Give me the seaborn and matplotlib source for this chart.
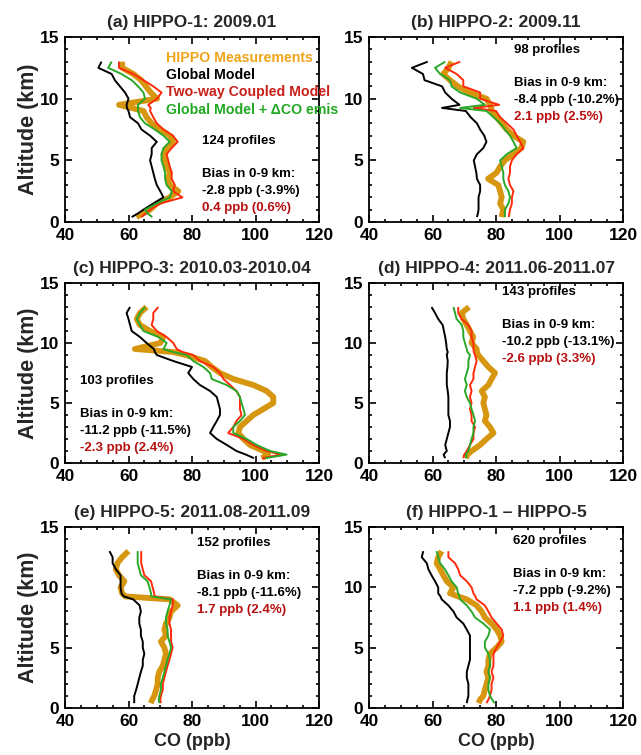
import matplotlib
matplotlib.use("Agg")
import matplotlib.pyplot as plt
from matplotlib.ticker import MultipleLocator
import seaborn as sns
import pandas as pd

# ---------------- data ----------------
ALT = [0.4, 0.7, 1.0, 1.5, 2.0, 2.5, 3.0, 3.5, 4.0, 4.5, 5.0, 5.5, 6.0, 6.5, 7.0,
       7.5, 8.0, 8.5, 9.0, 9.25, 9.5, 10.0, 10.5, 11.0, 11.5, 12.0, 12.5, 13.0]

# (a) HIPPO-1
hippo_a = [62.5, 64.5, 66.8, 68.9, 73.0, 75.7, 73.0, 72.5, 73.0, 72.0, 71.5, 71.0, 72.0, 74.0, 73.0,
           70.0, 67.3, 65.7, 64.7, 61.0, 57.0, 69.0, 67.0, 65.5, 64.0, 61.5, 58.0, 58.0]
glob_a = [61.0, 63.0, 64.7, 67.8, 71.0, 70.0, 68.9, 68.3, 67.8, 67.3, 66.8, 67.3, 67.3, 68.9, 66.8,
          64.1, 63.0, 60.5, 60.0, 59.5, 59.4, 60.0, 58.9, 57.3, 55.7, 54.7, 50.5, 51.5]
twoway_a = [64.0, 65.5, 66.8, 70.0, 77.0, 74.0, 74.6, 73.6, 73.6, 73.0, 72.5, 72.0, 73.6, 75.5, 74.0,
            71.0, 68.9, 67.8, 66.8, 67.0, 66.2, 69.0, 70.4, 67.8, 64.7, 61.5, 57.0, 57.0]
dco_a = [67.5, 66.0, 65.2, 68.9, 73.0, 73.6, 72.0, 71.5, 71.5, 71.0, 70.4, 70.4, 71.0, 73.0, 71.0,
         68.3, 65.2, 63.6, 63.0, 63.0, 63.0, 65.2, 64.7, 63.0, 61.0, 57.8, 53.6, 54.7]

# (b) HIPPO-2
hippo_b = [81.8, 82.0, 82.3, 81.3, 81.8, 81.3, 80.7, 77.5, 80.2, 81.3, 82.8, 85.5, 88.0, 88.6, 85.5,
           83.4, 81.8, 80.2, 78.6, 78.5, 78.1, 77.0, 71.5, 68.0, 65.5, 63.4, 65.0, 66.0]
glob_b = [74.0, 74.3, 74.5, 74.5, 74.5, 75.0, 75.0, 74.0, 73.8, 73.4, 73.0, 74.0, 76.0, 77.0, 76.3,
          75.0, 74.0, 72.0, 70.5, 63.0, 68.5, 66.0, 64.0, 63.0, 57.5, 57.0, 53.5, 58.5]
twoway_b = [84.0, 84.2, 84.4, 85.0, 85.0, 85.5, 84.4, 83.9, 84.4, 84.4, 85.0, 86.5, 88.6, 87.6, 86.5,
            85.5, 83.4, 81.3, 80.0, 73.0, 81.0, 75.0, 75.0, 69.7, 69.7, 67.6, 64.0, 68.7]
dco_b = [82.8, 82.8, 82.8, 83.9, 84.4, 83.9, 82.8, 82.3, 82.3, 81.8, 81.3, 83.4, 86.5, 85.5, 84.4,
         82.8, 81.3, 79.2, 77.0, 68.7, 76.5, 73.9, 68.7, 66.0, 65.5, 62.4, 60.8, 64.0]

# (c) HIPPO-3
hippo_c = [102.0, 104.0, 102.5, 98.3, 96.2, 94.6, 95.1, 97.2, 99.3, 102.5, 105.6, 105.6, 103.5, 99.3, 93.0,
           88.8, 86.2, 84.1, 78.0, 74.0, 62.0, 70.0, 71.0, 66.8, 63.6, 62.6, 63.6, 65.7]
glob_c = [99.5, 97.0, 94.0, 91.0, 87.8, 85.7, 86.7, 87.8, 88.8, 88.8, 88.3, 87.8, 85.7, 82.5, 80.4,
          78.8, 80.0, 74.1, 68.9, 68.3, 68.0, 65.7, 63.6, 61.0, 60.5, 60.0, 59.4, 60.5]
twoway_c = [102.0, 108.2, 103.5, 99.3, 96.2, 91.4, 93.0, 94.0, 95.6, 95.1, 95.1, 95.1, 94.0, 92.0, 89.9,
            88.8, 86.7, 82.5, 80.4, 77.0, 75.2, 74.1, 72.0, 68.9, 67.3, 67.8, 67.8, 69.4]
dco_c = [103.0, 109.8, 104.6, 100.4, 97.2, 93.0, 93.0, 95.1, 96.7, 96.2, 95.6, 95.1, 94.0, 90.9, 86.2,
         85.7, 83.6, 80.4, 78.3, 74.0, 71.0, 72.0, 69.4, 64.7, 63.6, 62.6, 63.6, 65.2]

# (d) HIPPO-4
hippo_d = [70.5, 71.0, 72.3, 75.0, 77.0, 79.2, 78.1, 76.5, 77.0, 76.5, 76.0, 76.5, 75.5, 77.6, 78.6,
           79.7, 77.6, 76.0, 74.4, 74.0, 73.9, 72.3, 72.8, 71.8, 70.8, 69.7, 69.2, 71.5]
glob_d = [64.0, 63.5, 64.5, 64.0, 64.5, 65.0, 65.5, 65.5, 65.0, 65.0, 65.0, 65.0, 64.8, 64.5, 64.5,
          64.5, 64.7, 64.8, 64.5, 64.8, 64.5, 64.3, 64.0, 63.6, 63.2, 61.8, 60.8, 59.7]
twoway_d = [69.7, 70.0, 70.8, 71.8, 72.9, 72.9, 73.4, 72.3, 72.3, 71.8, 72.3, 71.8, 72.3, 71.8, 72.9,
            72.9, 73.4, 73.9, 73.4, 73.0, 72.9, 72.9, 72.3, 72.3, 71.3, 69.2, 68.1, 68.1]
dco_d = [70.8, 70.5, 71.3, 71.8, 72.3, 72.9, 72.9, 73.4, 72.9, 72.3, 71.8, 70.8, 70.2, 70.8, 70.2,
         70.8, 71.3, 71.3, 71.8, 71.0, 70.8, 70.2, 69.7, 69.7, 69.2, 67.6, 67.1, 66.6]

# (e) HIPPO-5
hippo_e = [67.0, 67.5, 68.1, 68.7, 69.2, 69.2, 69.7, 70.8, 71.3, 71.8, 71.3, 70.2, 71.8, 71.3, 71.8,
           72.9, 73.4, 75.5, 73.0, 59.0, 58.0, 57.5, 58.7, 57.0, 56.0, 56.5, 58.0, 60.0]
glob_e = [61.8, 61.8, 61.8, 62.4, 62.9, 63.4, 63.9, 64.5, 64.5, 65.0, 64.5, 64.5, 63.9, 63.9, 63.4,
          63.4, 63.9, 63.5, 61.5, 58.5, 57.8, 57.5, 57.5, 57.5, 56.0, 55.0, 55.0, 54.0]
twoway_e = [70.2, 70.0, 70.2, 70.8, 70.8, 71.3, 71.8, 72.3, 72.9, 73.4, 73.9, 73.4, 73.4, 73.4, 72.9,
            72.9, 73.4, 73.9, 74.0, 68.2, 68.1, 67.6, 67.1, 65.0, 64.5, 64.0, 64.0, 64.0]
dco_e = [69.7, 69.5, 69.7, 70.2, 70.2, 70.8, 71.3, 71.8, 72.3, 72.9, 73.4, 72.9, 72.3, 72.3, 71.8,
         71.8, 72.3, 72.9, 73.4, 67.2, 67.1, 66.6, 66.0, 63.9, 63.4, 62.9, 62.9, 62.9]

# (f) HIPPO-1 – HIPPO-5
hippo_f = [74.5, 75.0, 76.0, 76.5, 77.0, 77.6, 77.0, 77.6, 77.6, 78.1, 80.2, 81.8, 81.3, 80.2, 78.6,
           76.5, 75.5, 73.9, 70.8, 68.0, 65.5, 66.6, 64.5, 63.4, 62.4, 61.3, 61.8, 62.9]
glob_f = [70.8, 71.0, 71.3, 71.3, 71.3, 70.8, 70.8, 71.3, 71.8, 71.8, 71.8, 71.8, 71.8, 70.8, 69.7,
          67.6, 66.6, 65.0, 62.9, 62.5, 61.8, 61.8, 60.8, 59.7, 58.7, 58.2, 56.6, 57.1]
twoway_f = [77.0, 77.6, 78.1, 78.6, 78.6, 79.2, 78.6, 79.2, 79.2, 79.2, 80.2, 81.3, 82.3, 81.8, 80.2,
            78.6, 77.6, 76.5, 73.9, 73.5, 72.9, 72.3, 70.8, 68.7, 68.1, 67.1, 65.0, 65.0]
dco_f = [79.5, 78.8, 78.1, 77.6, 77.6, 78.1, 77.6, 78.1, 78.1, 77.6, 76.5, 76.5, 77.6, 78.1, 76.0,
         73.4, 72.3, 70.8, 68.7, 68.5, 68.1, 67.6, 66.0, 65.0, 63.9, 62.4, 61.8, 61.3]

TITLES = ["(a) HIPPO-1: 2009.01", "(b) HIPPO-2: 2009.11",
          "(c) HIPPO-3: 2010.03-2010.04", "(d) HIPPO-4: 2011.06-2011.07",
          "(e) HIPPO-5: 2011.08-2011.09", "(f) HIPPO-1 \u2013 HIPPO-5"]
PROFILES = ["124 profiles", "98 profiles", "103 profiles", "143 profiles", "152 profiles", "620 profiles"]
BIAS_GLOBAL = ["-2.8 ppb (-3.9%)", "-8.4 ppb (-10.2%)", "-11.2 ppb (-11.5%)",
               "-10.2 ppb (-13.1%)", "-8.1 ppb (-11.6%)", "-7.2 ppb (-9.2%)"]
BIAS_COUPLED = ["0.4 ppb (0.6%)", "2.1 ppb (2.5%)", "-2.3 ppb (2.4%)",
                "-2.6 ppb (3.3%)", "1.7 ppb (2.4%)", "1.1 ppb (1.4%)"]
SERIES = ["HIPPO Measurements", "Global Model", "Two-way Coupled Model",
          "Global Model + \u0394CO emis"]

PANELS = [
    (hippo_a, glob_a, twoway_a, dco_a),
    (hippo_b, glob_b, twoway_b, dco_b),
    (hippo_c, glob_c, twoway_c, dco_c),
    (hippo_d, glob_d, twoway_d, dco_d),
    (hippo_e, glob_e, twoway_e, dco_e),
    (hippo_f, glob_f, twoway_f, dco_f),
]

# ---------------- style ----------------
sns.set_theme(style="ticks")
plt.rcParams["font.family"] = ["Liberation Sans", "DejaVu Sans"]
plt.rcParams["font.weight"] = "bold"

LINE_COLORS = ["#D6960F", "#000000", "#FF2A0A", "#2AA82A"]
LINE_WIDTHS = [4.2, 1.4, 1.4, 1.4]
TEXT_COLORS = ["#F0A418", "#000000", "#C8201A", "#22A822"]
BIAS_RED = "#B81010"

fig = plt.figure(figsize=(6.41, 7.55), dpi=100)
W, H = 641.0, 755.0
col_left = [65, 369]
rows = [(37, 222), (283, 463), (527, 708)]
axes_w = 254

# text positions in axes fraction (x, y of first line)
text_pos = [
    (0.54, 0.44),
    (0.57, 0.93),
    (0.06, 0.455),
    (0.525, 0.95),
    (0.52, 0.91),
    (0.565, 0.92),
]

for i, (data, title) in enumerate(zip(PANELS, TITLES)):
    r, c = divmod(i, 2)
    top, bot = rows[r]
    ax = fig.add_axes([col_left[c] / W, 1 - bot / H, axes_w / W, (bot - top) / H])
    for k, (vals, name) in enumerate(zip(data, SERIES)):
        df = pd.DataFrame({"CO": vals, "Altitude": ALT})
        sns.lineplot(data=df, x="CO", y="Altitude", sort=False, estimator=None,
                     color=LINE_COLORS[k], lw=LINE_WIDTHS[k], ax=ax, legend=False,
                     zorder=2 + k, solid_joinstyle="round", solid_capstyle="butt")
    ax.set_xlim(40, 120)
    ax.set_ylim(0, 15)
    ax.xaxis.set_major_locator(MultipleLocator(20))
    ax.xaxis.set_minor_locator(MultipleLocator(5))
    ax.yaxis.set_major_locator(MultipleLocator(5))
    ax.yaxis.set_minor_locator(MultipleLocator(1))
    ax.tick_params(which="both", direction="in", top=True, right=True, width=1.2,
                   colors="black")
    ax.tick_params(which="major", length=5, labelsize=12.5, pad=4)
    ax.tick_params(which="minor", length=2.5)
    for lab in ax.get_xticklabels() + ax.get_yticklabels():
        lab.set_fontweight("bold")
    for sp in ax.spines.values():
        sp.set_linewidth(1.3)
        sp.set_color("black")
    ax.set_title(title, fontsize=12.5, fontweight="bold", pad=7)
    ax.set_ylabel("Altitude (km)" if c == 0 else "", fontsize=15.5, fontweight="bold",
                  labelpad=1)
    ax.set_xlabel("CO (ppb)" if r == 2 else "", fontsize=13, fontweight="bold",
                  labelpad=3)

    tx, ty = text_pos[i]
    step_px = 17.0 / (bot - top)
    gap = 33.0 / (bot - top)
    ax.text(tx, ty, PROFILES[i], transform=ax.transAxes, fontsize=9.5,
            fontweight="bold", ha="left", va="center", color="black")
    ax.text(tx, ty - gap, "Bias in 0-9 km:", transform=ax.transAxes, fontsize=9.5,
            fontweight="bold", ha="left", va="center", color="black")
    ax.text(tx, ty - gap - step_px, BIAS_GLOBAL[i], transform=ax.transAxes,
            fontsize=9.5, fontweight="bold", ha="left", va="center", color="black")
    ax.text(tx, ty - gap - 2 * step_px, BIAS_COUPLED[i], transform=ax.transAxes,
            fontsize=9.5, fontweight="bold", ha="left", va="center", color=BIAS_RED)

    if i == 0:
        for k, name in enumerate(SERIES):
            ax.text(0.398, 0.887 - k * 0.093, name, transform=ax.transAxes,
                    fontsize=10.2, fontweight="bold", ha="left", va="center",
                    color=TEXT_COLORS[k], zorder=10)

fig.savefig("out.png", dpi=100)
